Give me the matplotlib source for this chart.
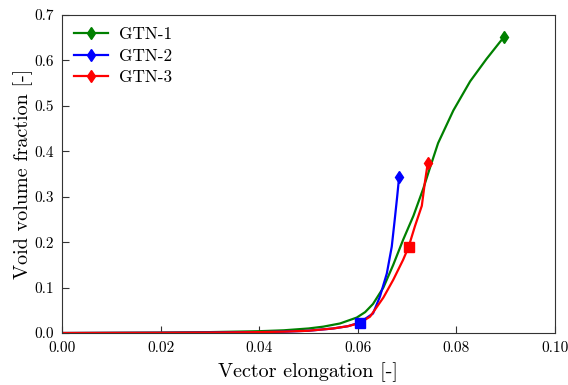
import matplotlib
matplotlib.use("Agg")
import matplotlib.pyplot as plt

plt.rcParams['font.family'] = ['cmr10', 'DejaVu Serif']
plt.rcParams['mathtext.fontset'] = 'cm'
plt.rcParams['axes.formatter.use_mathtext'] = True

# GTN-1
x1 = [0.0, 0.02, 0.03, 0.04, 0.045, 0.05, 0.053, 0.0564, 0.0598, 0.0615, 0.0631, 0.0652, 0.0672,
      0.0692, 0.0713, 0.0733, 0.0746, 0.0763, 0.0794, 0.0828, 0.0861, 0.0888, 0.0897]
y1 = [0.0, 0.001, 0.002, 0.004, 0.006, 0.010, 0.014, 0.021, 0.034, 0.046, 0.064, 0.100, 0.150,
      0.205, 0.258, 0.318, 0.362, 0.418, 0.490, 0.554, 0.603, 0.640, 0.652]
# GTN-2
x2 = [0.0, 0.02, 0.03, 0.04, 0.045, 0.05, 0.055, 0.058, 0.0604, 0.0631, 0.0645, 0.0659,
      0.0669, 0.0675, 0.068, 0.0684]
y2 = [0.0, 0.0005, 0.001, 0.002, 0.003, 0.005, 0.010, 0.015, 0.023, 0.043, 0.080, 0.131,
      0.19, 0.249, 0.30, 0.344]
sq2 = 8
# GTN-3
x3 = [0.0, 0.02, 0.03, 0.04, 0.045, 0.05, 0.055, 0.058, 0.0604, 0.0625, 0.0652, 0.0672,
      0.0692, 0.0703, 0.0716, 0.073, 0.0736, 0.0742]
y3 = [0.0, 0.0005, 0.001, 0.002, 0.003, 0.005, 0.010, 0.015, 0.022, 0.036, 0.078, 0.117,
      0.161, 0.189, 0.235, 0.280, 0.330, 0.374]
sq3 = 13

labels = ['GTN-1', 'GTN-2', 'GTN-3']
colors = ['green', 'blue', 'red']

fig = plt.figure(figsize=(5.68, 3.85), dpi=100)
ax = fig.add_axes([0.109, 0.135, 0.868, 0.826])

for xs, ys, lab, c in zip([x1, x2, x3], [y1, y2, y3], labels, colors):
    ax.plot(xs, ys, color=c, lw=1.6, marker='d', markevery=[len(xs) - 1],
            markersize=6, label=lab)
ax.plot([x2[sq2]], [y2[sq2]], 's', color='blue', markersize=6.5)
ax.plot([x3[sq3]], [y3[sq3]], 's', color='red', markersize=6.5)

ax.set_xlim(0, 0.1)
ax.set_ylim(0, 0.7)
ax.set_xticks([0.0, 0.02, 0.04, 0.06, 0.08, 0.10])
ax.set_xticklabels(['0.00', '0.02', '0.04', '0.06', '0.08', '0.10'])
ax.set_yticks([0.0, 0.1, 0.2, 0.3, 0.4, 0.5, 0.6, 0.7])
ax.set_yticklabels(['0.0', '0.1', '0.2', '0.3', '0.4', '0.5', '0.6', '0.7'])
ax.tick_params(direction='in', labelsize=11, length=5, color='#333333')
ax.tick_params(axis='x', pad=6)
ax.tick_params(axis='y', pad=6)
for s in ax.spines.values():
    s.set_color('#333333')
ax.set_xlabel('Vector elongation [-]', fontsize=14.5, labelpad=5)
ax.set_ylabel('Void volume fraction [-]', fontsize=14.5, labelpad=1)
ax.legend(loc='upper left', frameon=False, fontsize=12.4, handlelength=2.0,
          labelspacing=0.35, borderaxespad=0.3, handletextpad=0.6)

fig.savefig('out.png', dpi=100)
